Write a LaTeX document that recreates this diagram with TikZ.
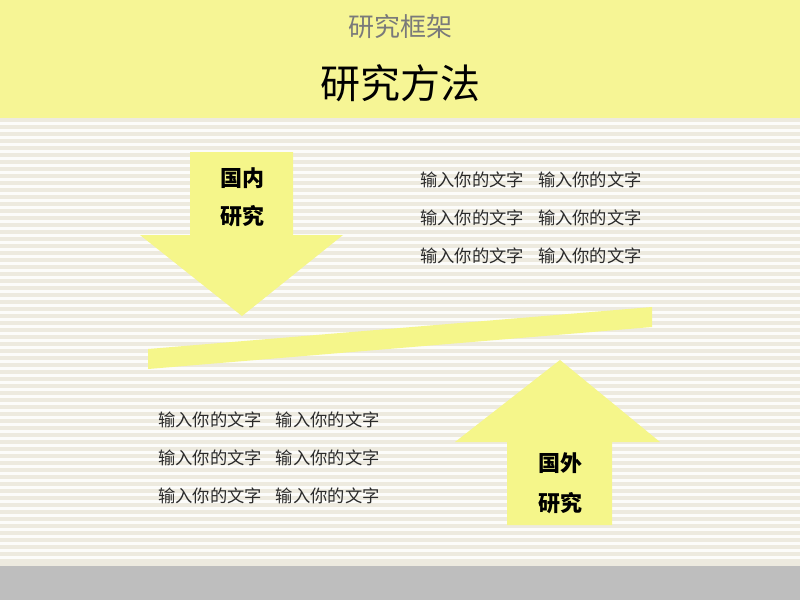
\documentclass[tikz,border=0pt]{standalone}
\usepackage{fontspec}
\usepackage{tikz}
\usetikzlibrary{positioning}
\setmainfont{Noto Sans CJK SC}
\newfontfamily\cjk{Noto Sans CJK SC}
\definecolor{bandyellow}{HTML}{F6F595}
\definecolor{arrowyellow}{HTML}{F5F68A}
\definecolor{stripebg}{HTML}{EDEADF}
\definecolor{footgray}{HTML}{BEBEBE}
\definecolor{titlegray}{HTML}{7A7A7A}
\definecolor{bodytext}{HTML}{2A2A2A}

\begin{document}
\begin{tikzpicture}[
    x=1pt, y=-1pt,
    arrowshape/.style={fill=arrowyellow, draw=none},
    tag/.style={font=\cjk\fontsize{22}{26}\selectfont\bfseries, text=black, inner sep=0pt},
    line/.style={font=\cjk\fontsize{17.3}{20}\selectfont, text=bodytext, inner sep=0pt, anchor=west}
]
    \useasboundingbox (0,0) rectangle (800,600);
    % background
    \fill[stripebg] (0,118) rectangle (800,566);
    \foreach \y in {122,129,...,562}
        \fill[white!85!stripebg] (0,\y) rectangle (800,\y+3);
    \fill[bandyellow] (0,0) rectangle (800,118);
    \fill[footgray] (0,566) rectangle (800,600);

    % titles
    \node[font=\cjk\fontsize{26}{30}\selectfont, text=titlegray] (sub) at (400,27) {研究框架};
    \node[font=\cjk\fontsize{40}{46}\selectfont, text=black] (title) at (400,83) {研究方法};

    % arrows and band
    \fill[arrowshape] (190,152) -- (293,152) -- (293,235) -- (343,235) -- (242,316)
        -- (140,235) -- (190,235) -- cycle;
    \fill[arrowshape] (148,349) -- (652,307) -- (652,327) -- (148,369) -- cycle;
    \fill[arrowshape] (560,360) -- (660,442) -- (612,442) -- (612,525) -- (507,525)
        -- (507,442) -- (455,442) -- cycle;

    \node[tag] (home1) at (242,178) {国内};
    \node[tag] (home2) at (242,216) {研究};
    \node[tag] (abroad1) at (560,463) {国外};
    \node[tag] (abroad2) at (560,503) {研究};

    % text lines
    \foreach \y [count=\i] in {180,218,256} {
        \node[line] (r\i) at (420,\y) {输入你的文字\hspace{14pt}输入你的文字};
    }
    \foreach \y [count=\i] in {420,458,496} {
        \node[line] (l\i) at (158,\y) {输入你的文字\hspace{14pt}输入你的文字};
    }
\end{tikzpicture}
\end{document}
